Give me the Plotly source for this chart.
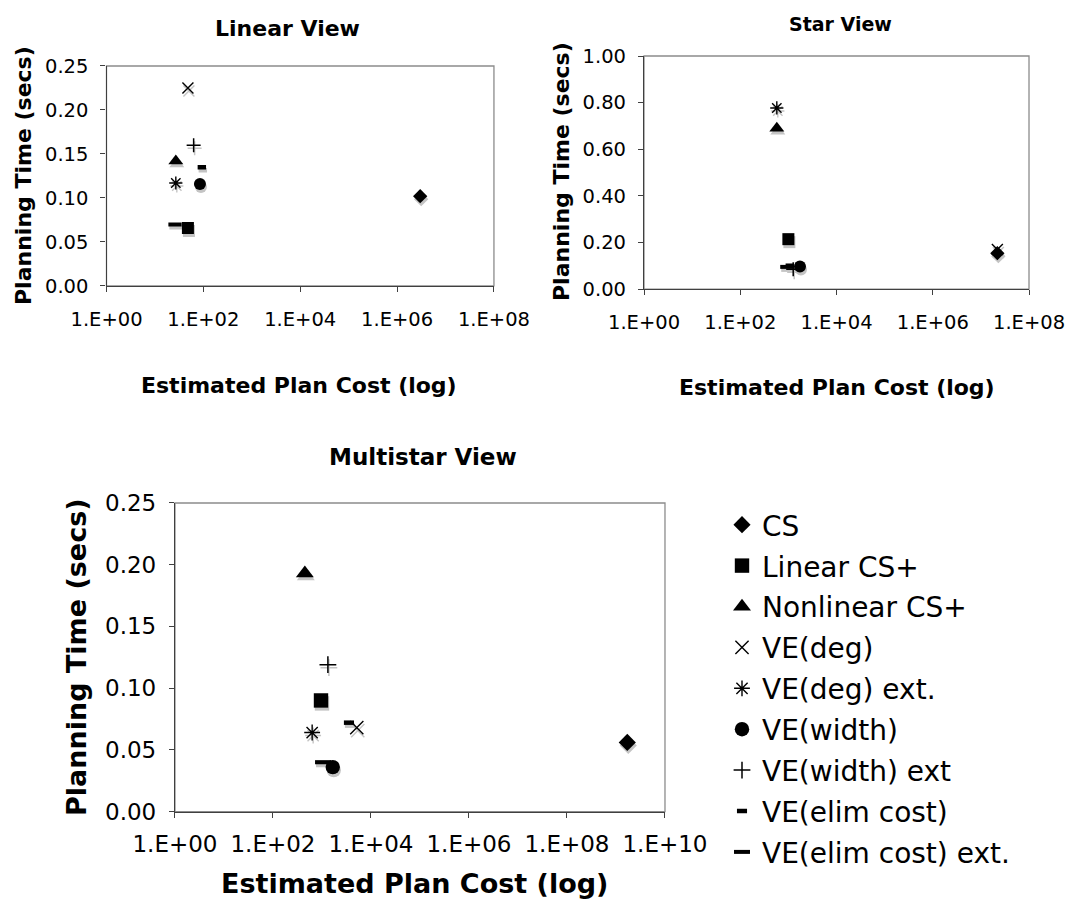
import plotly.graph_objects as go

# ---- data -------------------------------------------------------------
series = ["CS", "Linear CS+", "Nonlinear CS+", "VE(deg)", "VE(deg) ext.",
          "VE(width)", "VE(width) ext", "VE(elim cost)", "VE(elim cost) ext."]

linear_cost = [3.0e6, 48, 27, 48, 27, 85, 63, 93, 26]
linear_time = [0.102, 0.066, 0.142, 0.225, 0.117, 0.116, 0.160, 0.135, 0.070]

star_cost = [2.2e7, 1000, 575, 2.2e7, 575, 1740, 1260, 1070, 930]
star_time = [0.154, 0.214, 0.690, 0.170, 0.777, 0.097, 0.085, 0.100, 0.095]

multi_cost = [1.7e9, 955, 447, 5130, 630, 1660, 1320, 3550, 1050]
multi_time = [0.056, 0.090, 0.193, 0.068, 0.064, 0.036, 0.119, 0.072, 0.040]

x_ticks_top = [1, 1e2, 1e4, 1e6, 1e8]
x_labels_top = ["1.E+00", "1.E+02", "1.E+04", "1.E+06", "1.E+08"]
x_ticks_bottom = [1, 1e2, 1e4, 1e6, 1e8, 1e10]
x_labels_bottom = ["1.E+00", "1.E+02", "1.E+04", "1.E+06", "1.E+08", "1.E+10"]

# ---- styling ----------------------------------------------------------
W, H = 1065, 899
FONT = "DejaVu Sans"

symbols = ["diamond", "square", "triangle-up", "x-thin-open", "asterisk-open",
           "circle", "cross-thin-open", "line-ew-open", "line-ew-open"]
sizes = [11, 12, 13, 11, 11, 12, 10, 6, 9.5]
line_w = [0, 0, 0, 1.4, 1.4, 0, 1.5, 4.5, 4]

panels = [
    dict(cost=linear_cost, time=linear_time, xd=[0.1000, 0.4638], yd=[0.6819, 0.9266],
         xr=[0, 8], yr=[0, 0.25], ydt=0.05, xt=x_ticks_top, xl=x_labels_top,
         tick=19.5, scale=1.0, xpad=10),
    dict(cost=star_cost, time=star_time, xd=[0.6047, 0.9662], yd=[0.6785, 0.9377],
         xr=[0, 8], yr=[0, 1.0], ydt=0.2, xt=x_ticks_top, xl=x_labels_top,
         tick=19.5, scale=1.0, xpad=10),
    dict(cost=multi_cost, time=multi_time, xd=[0.1643, 0.6244], yd=[0.0973, 0.4405],
         xr=[0, 10], yr=[0, 0.25], ydt=0.05, xt=x_ticks_bottom, xl=x_labels_bottom,
         tick=23, scale=1.2, xpad=7),
]

fig = go.Figure()
layout = {}
shapes = []
SH_DX, SH_DY = 1.0, 3.0  # drop-shadow offset in pixels

for i, p in enumerate(panels):
    base = 2 * i + 1      # hidden axes carrying the shadow copies
    top = 2 * i + 2       # visible overlaid axes carrying the markers
    bx = "xaxis" if base == 1 else f"xaxis{base}"
    by = "yaxis" if base == 1 else f"yaxis{base}"
    bxr = "x" if base == 1 else f"x{base}"
    byr = "y" if base == 1 else f"y{base}"
    tx, ty = f"xaxis{top}", f"yaxis{top}"
    txr, tyr = f"x{top}", f"y{top}"

    pw = (p["xd"][1] - p["xd"][0]) * W
    ph = (p["yd"][1] - p["yd"][0]) * H
    dxu = SH_DX * (p["xr"][1] - p["xr"][0]) / pw
    dyu = SH_DY * (p["yr"][1] - p["yr"][0]) / ph

    tickfont = dict(family=FONT, size=p["tick"], color="#000")
    layout[bx] = dict(domain=p["xd"], anchor=byr, type="log",
                      range=[p["xr"][0] - dxu, p["xr"][1] - dxu],
                      showticklabels=False, showgrid=False, zeroline=False,
                      showline=False, ticks="", automargin=False)
    layout[by] = dict(domain=p["yd"], anchor=bxr,
                      range=[p["yr"][0] + dyu, p["yr"][1] + dyu],
                      showticklabels=False, showgrid=False, zeroline=False,
                      showline=False, ticks="", automargin=False)
    layout[tx] = dict(domain=p["xd"], anchor=tyr, overlaying=bxr, type="log",
                      range=p["xr"], tickvals=p["xt"], ticktext=p["xl"],
                      tickfont=tickfont, ticklabelstandoff=p["xpad"],
                      ticklabeloverflow="allow",
                      ticks="outside", ticklen=5, tickcolor="#404040",
                      showgrid=False, zeroline=False, showline=True,
                      linecolor="#404040", linewidth=1.3, automargin=False)
    layout[ty] = dict(domain=p["yd"], anchor=txr, overlaying=byr,
                      range=p["yr"], dtick=p["ydt"], tickformat=".2f",
                      tickfont=tickfont, ticks="outside", ticklen=5,
                      tickcolor="#404040", ticklabelstandoff=8,
                      ticklabeloverflow="allow",
                      showgrid=False, zeroline=False, showline=True,
                      linecolor="#404040", linewidth=1.3, automargin=False)

    # grey plot-area frame (top / right edges)
    shapes.append(dict(type="rect", xref=f"{bxr} domain", yref=f"{byr} domain",
                       x0=0, x1=1, y0=0, y1=1, layer="below",
                       line=dict(color="#8c8c8c", width=1.3)))

    for k, name in enumerate(series):
        sz = sizes[k] * p["scale"]
        # shadow copy
        fig.add_trace(go.Scatter(
            x=[p["cost"][k]], y=[p["time"][k]], mode="markers", xaxis=bxr, yaxis=byr,
            showlegend=False, hoverinfo="skip",
            marker=dict(symbol=symbols[k], size=sz, color="#c4c4c4",
                        line=dict(color="#c4c4c4", width=line_w[k]))))
    for k, name in enumerate(series):
        sz = sizes[k] * p["scale"]
        fig.add_trace(go.Scatter(
            x=[p["cost"][k]], y=[p["time"][k]], mode="markers", xaxis=txr, yaxis=tyr,
            name=name, legendgroup=name, showlegend=(i == 2),
            marker=dict(symbol=symbols[k], size=sz, color="#000",
                        line=dict(color="#000", width=line_w[k]))))


def ann(text, x, y, size, bold=True, angle=0):
    return dict(text=f"<b>{text}</b>" if bold else text, x=x / W, y=1 - y / H,
                xref="paper", yref="paper", showarrow=False, textangle=angle,
                xanchor="center", yanchor="middle",
                font=dict(family=FONT, size=size, color="#000"))


annotations = [
    ann("Linear View", 287, 28, 22),
    ann("Star View", 840, 24, 19),
    ann("Multistar View", 423, 457, 23),
    ann("Planning Time (secs)", 23, 176, 22, angle=-90),
    ann("Planning Time (secs)", 562, 172, 22, angle=-90),
    ann("Planning Time (secs)", 76, 657, 27, angle=-90),
    ann("Estimated Plan Cost (log)", 299, 385, 22),
    ann("Estimated Plan Cost (log)", 837, 387, 22),
    ann("Estimated Plan Cost (log)", 414, 883, 27),
]

fig.update_layout(
    width=W, height=H, margin=dict(l=0, r=0, t=0, b=0, autoexpand=False),
    paper_bgcolor="white", plot_bgcolor="white",
    shapes=shapes, annotations=annotations,
    legend=dict(x=722 / W, y=1 - 500 / H, xanchor="left", yanchor="top",
                font=dict(family=FONT, size=28, color="#000"),
                traceorder="grouped", tracegroupgap=1.5, itemwidth=30,
                bgcolor="rgba(0,0,0,0)"),
    **layout,
)

fig.write_html("out.html")
